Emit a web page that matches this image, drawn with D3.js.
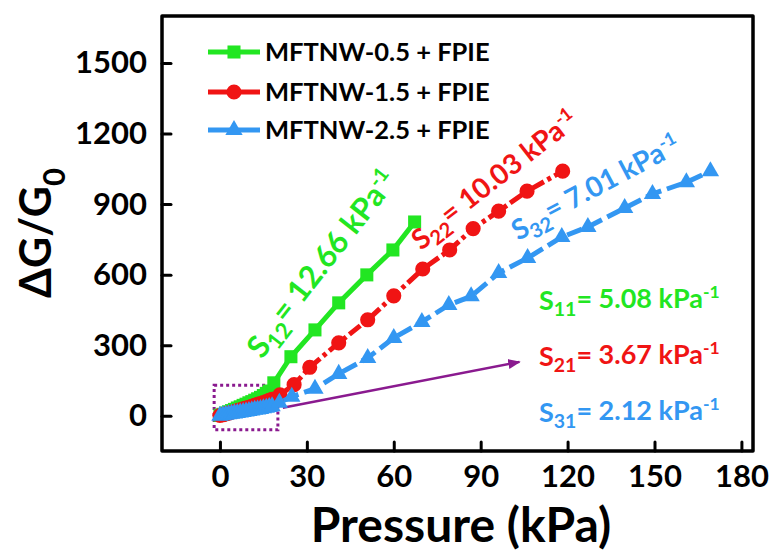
<!DOCTYPE html>
<html>
<head>
<meta charset="utf-8">
<script src="https://cdn.jsdelivr.net/npm/d3@7"></script>
<style>
  body { margin: 0; background: #fff; }
  svg { display: block; }
  text { font-family: Lato, "Open Sans", sans-serif; font-weight: 700; }
</style>
</head>
<body>
<svg id="chart" width="776" height="551"></svg>
<script>
// Axis ticks
const xTicks = [0, 30, 60, 90, 120, 150, 180];
const yTicks = [0, 300, 600, 900, 1200, 1500];

// Series labels
const seriesNames = ["MFTNW-0.5 + FPIE", "MFTNW-1.5 + FPIE", "MFTNW-2.5 + FPIE"];

// MFTNW-0.5 + FPIE : pressure (kPa) and ΔG/G0
const pressure05 = [0, 1, 2, 3, 4, 5, 6, 7, 8, 9, 10, 11, 12, 13, 14, 15, 16, 17, 18.6, 24.5, 32.8, 41, 50.7, 59.7, 67.2];
const signal05   = [2, 6, 12, 17, 22, 27, 33, 38, 44, 49, 55, 60, 66, 72, 78, 86, 95, 105, 140, 251, 365, 480, 599, 705, 824];

// MFTNW-1.5 + FPIE
const pressure15 = [0, 1, 2, 3, 4, 5, 6, 7, 8, 9, 10, 11, 12, 13, 14, 15, 16, 17, 18, 20.7, 25.6, 31, 41, 51, 60, 70, 79.3, 87.4, 96.2, 106, 118.3];
const signal15   = [1, 4, 8, 11, 15, 18, 22, 25, 29, 33, 36, 40, 44, 48, 52, 56, 60, 65, 70, 89, 132, 206, 310, 408, 510, 624, 705, 796, 870, 955, 1040];

// MFTNW-2.5 + FPIE
const pressure25 = [0, 1, 2, 3, 4, 5, 6, 7, 8, 9, 10, 11, 12, 13, 14, 15, 16, 17, 18, 20.5, 24.8, 32.8, 41, 51, 60, 69.7, 79, 86.7, 96.2, 106.2, 118, 127, 139.7, 149.3, 161, 169.3];
const signal25   = [0, 2, 4, 6, 8, 10, 12, 14, 16, 18, 20, 22, 25, 27, 29, 32, 34, 37, 40, 55, 81, 115, 178, 246, 331, 399, 471, 508, 607, 671, 760, 803, 883, 943, 993, 1040];

// Sensitivity annotations
const slopeLabels = [
  { sub: "12", value: "12.66", series: 0 },
  { sub: "22", value: "10.03", series: 1 },
  { sub: "32", value: "7.01",  series: 2 },
  { sub: "11", value: "5.08",  series: 0 },
  { sub: "21", value: "3.67",  series: 1 },
  { sub: "31", value: "2.12",  series: 2 }
];

const colors = ["#22e622", "#f01414", "#3397f2"];
const purple = "#8a1a8f";

const svg = d3.select("#chart");

const x = d3.scaleLinear().domain([-20, 184]).range([162, 753]);
const y = d3.scaleLinear().domain([-150, 1700]).range([451, 16]);

// Frame
svg.append("rect")
  .attr("x", x.range()[0]).attr("y", y.range()[1])
  .attr("width", x.range()[1] - x.range()[0])
  .attr("height", y.range()[0] - y.range()[1])
  .attr("fill", "none").attr("stroke", "#000")
  .attr("stroke-width", 3.5).attr("stroke-linejoin", "round");

// Axes with inward ticks
const xAxis = svg.append("g")
  .attr("transform", `translate(0,${y.range()[0]})`)
  .call(d3.axisBottom(x).tickValues(xTicks).tickFormat(d3.format("d"))
    .tickSizeInner(-9).tickSizeOuter(0).tickPadding(14));
const yAxis = svg.append("g")
  .attr("transform", `translate(${x.range()[0]},0)`)
  .call(d3.axisLeft(y).tickValues(yTicks).tickFormat(d3.format("d"))
    .tickSizeInner(-9).tickSizeOuter(0).tickPadding(15));

[xAxis, yAxis].forEach(g => {
  g.select(".domain").remove();
  g.selectAll(".tick line").attr("stroke", "#000").attr("stroke-width", 3).attr("stroke-linecap", "round");
  g.selectAll(".tick text").attr("fill", "#000").style("font-size", "31px")
    .style("font-family", "Lato, 'Open Sans', sans-serif").style("font-weight", 700);
});

// Axis titles
svg.append("text")
  .attr("x", 461).attr("y", 542)
  .attr("text-anchor", "middle")
  .style("font-size", "48px")
  .text("Pressure (kPa)");

const yTitle = svg.append("text")
  .attr("transform", "translate(51,233) rotate(-90)")
  .attr("text-anchor", "middle")
  .style("font-size", "43px");
yTitle.append("tspan").text("ΔG/G");
yTitle.append("tspan").attr("dy", 14).style("font-size", "31px").text("0");

// Zoom box and arrow (data coordinates)
const boxX = [-2, 20], boxY = [-60, 130];
svg.append("rect")
  .attr("x", x(boxX[0])).attr("y", y(boxY[1]))
  .attr("width", x(boxX[1]) - x(boxX[0]))
  .attr("height", y(boxY[0]) - y(boxY[1]))
  .attr("fill", "none").attr("stroke", purple)
  .attr("stroke-width", 3).attr("stroke-dasharray", "3,3");

svg.append("defs").append("marker")
  .attr("id", "arrowHead").attr("viewBox", "0 0 10 10")
  .attr("refX", 9).attr("refY", 5)
  .attr("markerWidth", 5).attr("markerHeight", 5)
  .attr("markerUnits", "strokeWidth")
  .attr("orient", "auto")
  .append("path").attr("d", "M0,1 L10,5 L0,9 Z").attr("fill", purple);

const arrowFrom = [21.7, 34], arrowTo = [103.4, 229];
svg.append("line")
  .attr("x1", x(arrowFrom[0])).attr("y1", y(arrowFrom[1]))
  .attr("x2", x(arrowTo[0])).attr("y2", y(arrowTo[1]))
  .attr("stroke", purple).attr("stroke-width", 2.5)
  .attr("marker-end", "url(#arrowHead)");

// Series
const series = [
  { xs: pressure05, ys: signal05, dash: null, shape: d3.symbolSquare, size: 170 },
  { xs: pressure15, ys: signal15, dash: "14,4,4,4", shape: d3.symbolCircle, size: 180 },
  { xs: pressure25, ys: signal25, dash: "16,6", shape: d3.symbolTriangle, size: 130 }
];

const line = d3.line().x(d => x(d[0])).y(d => y(d[1]));

series.forEach((s, i) => {
  const pts = s.xs.map((v, k) => [v, s.ys[k]]);
  const g = svg.append("g");
  g.append("path").datum(pts)
    .attr("d", line).attr("fill", "none")
    .attr("stroke", colors[i]).attr("stroke-width", 5)
    .attr("stroke-dasharray", s.dash);
  g.selectAll("path.pt").data(pts).join("path")
    .attr("class", "pt")
    .attr("transform", d => `translate(${x(d[0])},${y(d[1])})`)
    .attr("d", d3.symbol().type(s.shape).size(s.size))
    .attr("fill", colors[i]);
});

// Legend
const legend = svg.append("g");
const legendRows = [52, 92, 130];
seriesNames.forEach((name, i) => {
  const gy = legendRows[i];
  legend.append("line").attr("x1", 208).attr("x2", 260).attr("y1", gy).attr("y2", gy)
    .attr("stroke", colors[i]).attr("stroke-width", 5);
  legend.append("path")
    .attr("transform", `translate(234,${gy})`)
    .attr("d", d3.symbol().type(series[i].shape).size(series[i].size))
    .attr("fill", colors[i]);
  legend.append("text").attr("x", 265).attr("y", gy).attr("dy", "0.36em")
    .style("font-size", "25.5px").attr("fill", "#000").text(name);
});

// Sensitivity labels
function slopeText(g, d) {
  const t = g.append("text").attr("fill", colors[d.series]);
  t.append("tspan").text("S");
  t.append("tspan").attr("dy", "0.3em").style("font-size", "0.72em").text(d.sub);
  t.append("tspan").attr("dy", "-0.3em").text("= " + d.value + " kPa");
  t.append("tspan").attr("dy", "-0.55em").style("font-size", "0.65em").text("-1");
  return t;
}

const placements = [
  { px: 262, py: 360, rot: -52, size: 31 },
  { px: 421, py: 251, rot: -38, size: 28 },
  { px: 518, py: 241, rot: -28, size: 28 },
  { px: 539, py: 310, rot: 0, size: 27 },
  { px: 539, py: 366, rot: 0, size: 27 },
  { px: 539, py: 422, rot: 0, size: 27 }
];

slopeLabels.forEach((d, i) => {
  const p = placements[i];
  const g = svg.append("g").attr("transform", `translate(${p.px},${p.py}) rotate(${p.rot})`)
    .style("font-size", p.size + "px");
  slopeText(g, d);
});
</script>
</body>
</html>
